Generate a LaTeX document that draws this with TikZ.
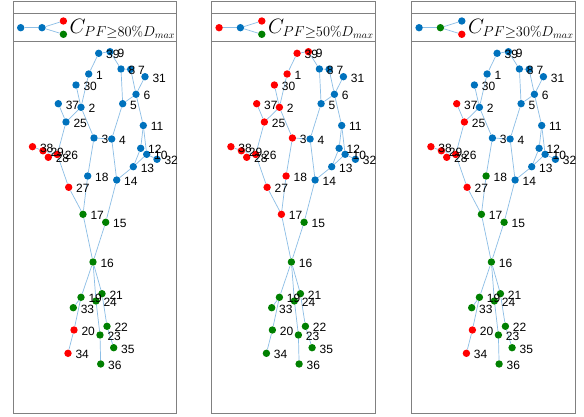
\documentclass[tikz,border=0pt]{standalone}
\usepackage{fontspec}
\newfontfamily\lblfont{Liberation Sans}
\pgfdeclarelayer{bg}
\pgfsetlayers{bg,main}
\definecolor{c0}{RGB}{0,114,189}
\definecolor{c1}{RGB}{255,0,0}
\definecolor{c2}{RGB}{0,128,0}
\definecolor{edgec}{RGB}{140,190,230}
\definecolor{framec}{RGB}{128,128,128}
\tikzset{
  dot/.style={circle, inner sep=0pt, minimum size=7.4pt, draw=none},
  edgeline/.style={draw=edgec, line width=0.7pt},
  lbl/.style={anchor=west, inner sep=0pt, font=\lblfont\fontsize{12}{13}\selectfont, text=black},
  framebox/.style={draw=framec, line width=1pt},
  legtext/.style={anchor=base west, inner sep=0pt, font=\fontsize{20}{24}\selectfont},
}
\def\nodelist{1/88.7/74, 2/81/107.3, 3/94/138, 4/111.7/139, 5/122.7/103.7,
6/136/94.3, 7/130.7/69.3, 8/121/69, 9/110/51.7, 10/146.7/154.3,
11/143.3/125.5, 12/140.7/148.3, 13/133.3/166.7, 14/116.7/180, 15/105.7/222.3,
16/93/262, 17/83/214.3, 18/87.7/176, 19/81/297.3, 20/74/330,
21/102/293.7, 22/107/326.3, 23/100/335, 24/96/301, 25/66/122,
26/57.3/154.5, 27/68.7/187.3, 28/48.3/157.3, 29/43/150.8, 30/76/85,
31/145/76.7, 32/157/159.3, 33/73.3/307.7, 34/68/353.3, 35/113.7/347.7,
36/100.7/364, 37/58.3/103.7, 38/32.5/146.7, 39/98.7/53.3}
\def\edgelist{39/9, 39/1, 9/8, 8/7, 1/2, 30/2, 8/5, 7/6, 31/6, 6/5, 6/11,
5/4, 4/3, 3/2, 3/18, 2/25, 37/25, 25/26, 26/27, 26/29, 26/28, 29/38,
4/14, 14/13, 13/12, 13/10, 11/12, 11/10, 10/32, 14/15, 18/17, 27/17,
17/16, 15/16, 16/19, 19/33, 19/20, 20/34, 16/24, 24/23, 23/36,
16/21, 21/22, 22/35}
\def\colA{{0,0,0,0,0,0,0,0,0,0, 0,0,0,0,2,2,2,0,2,1, 2,2,2,2,0,1,1,1,1,0, 0,0,2,1,2,2,0,1,0}}
\def\colB{{1,1,1,0,0,0,0,0,1,0, 0,0,0,0,2,2,1,1,2,2, 2,2,2,2,1,1,1,1,1,1, 0,0,2,2,2,2,1,1,1}}
\def\colC{{0,0,0,0,0,0,0,0,0,0, 0,0,0,0,2,2,2,2,2,1, 2,2,2,2,1,1,1,1,1,0, 0,0,2,1,2,2,1,1,0}}
% #1 prefix, #2 x shift, #3 colour array, #4-#7 legend colours, #8 percent
\newcommand\drawpanel[8]{%
  \begin{scope}[shift={(#2,0)}]
    \draw[framebox] (13.3,1.7) rectangle (176.7,413.3);
    \draw[framebox] (13.3,14) -- (176.7,14);
    \draw[framebox] (13.3,41.7) -- (176.7,41.7);
    \foreach \n/\x/\y in \nodelist {
      \pgfmathtruncatemacro\cc{#3[\n-1]}
      \node[dot, fill=c\cc] (#1\n) at (\x,\y) {};
    }
    \begin{pgfonlayer}{bg}
      \foreach \u/\v in \edgelist { \draw[edgeline] (#1\u) -- (#1\v); }
    \end{pgfonlayer}
    \foreach \n/\x/\y in \nodelist {
      \node[lbl] (#1t\n) at (\x+7.3,\y+1.3) {\n};
    }
    \node[dot, fill=#4] (#1L1) at (20.7,27.7) {};
    \node[dot, fill=#5] (#1L2) at (42,27.7) {};
    \node[dot, fill=#6] (#1L3) at (63.4,21) {};
    \node[dot, fill=#7] (#1L4) at (63.4,34.3) {};
    \begin{pgfonlayer}{bg}
      \draw[edgeline] (#1L1) -- (#1L2);
      \draw[edgeline] (#1L2) -- (#1L3);
      \draw[edgeline] (#1L2) -- (#1L4);
    \end{pgfonlayer}
    \node[legtext] (#1leg) at (69.5,33.3) {$C_{PF\geq #8\%D_{max}}$};
  \end{scope}
}
\begin{document}
\begin{tikzpicture}[x=1pt,y=-1pt]
  \useasboundingbox (0,0) rectangle (584,417);
  \begin{pgfonlayer}{bg}
    \fill[white] (0,0) rectangle (584,417);
  \end{pgfonlayer}
  \drawpanel{a}{0}{\colA}{c0}{c0}{c1}{c2}{80}
  \drawpanel{b}{198.4}{\colB}{c1}{c0}{c1}{c2}{50}
  \drawpanel{c}{398.4}{\colC}{c0}{c2}{c0}{c1}{30}
\end{tikzpicture}
\end{document}
